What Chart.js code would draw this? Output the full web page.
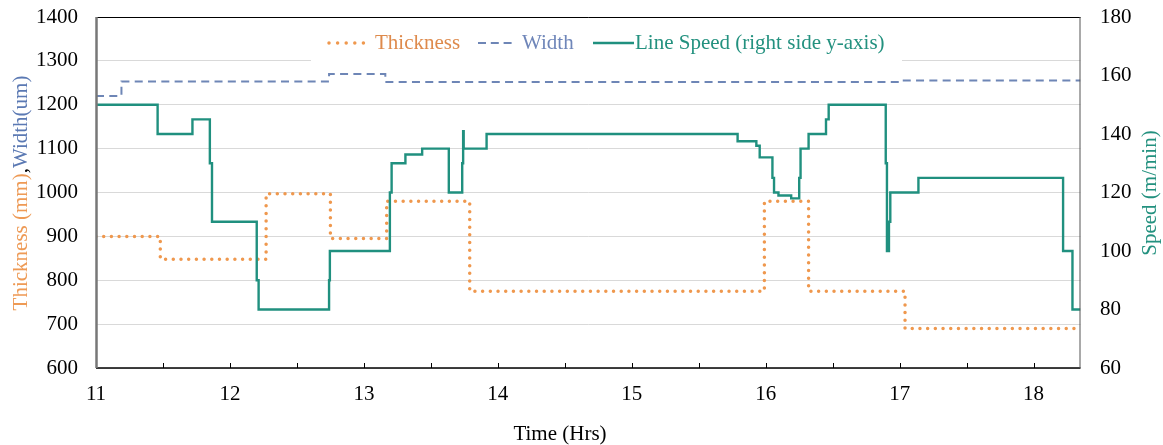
<!DOCTYPE html>
<html>
<head>
<meta charset="utf-8">
<script src="https://cdn.jsdelivr.net/npm/chart.js@4.4.1/dist/chart.umd.min.js"></script>
<style>
  html, body { margin: 0; padding: 0; background: #fff; }
  #wrap { width: 1163px; height: 445px; position: relative; }
</style>
</head>
<body>
<div id="wrap"><canvas id="chart"></canvas></div>
<script>
// Step series: each time is where the value starts, last point closes the line
const thicknessTimes = [11.0, 11.48, 12.27, 12.75, 13.17, 13.79, 15.99, 16.32, 17.04, 18.35];
const thicknessValues = [900, 848, 997, 895, 980, 775, 980, 775, 690, 690];

const widthTimes = [11.0, 11.19, 12.74, 13.16, 17.02, 18.35];
const widthValues = [1220, 1253, 1270, 1252, 1255, 1255];

const speedTimes = [11.0, 11.46, 11.72, 11.85, 11.866, 12.2, 12.214, 12.74, 12.746, 13.194, 13.207,
  13.31, 13.435, 13.634, 13.734, 13.741, 13.745, 13.916, 15.79, 15.93, 15.955, 16.05, 16.062,
  16.095, 16.19, 16.25, 16.26, 16.32, 16.45, 16.47, 16.896, 16.905, 16.92, 16.93, 17.14, 18.22,
  18.29, 18.35];
const speedValues = [150, 140, 145, 130, 110, 90, 80, 90, 100, 120, 130,
  133, 135, 120, 130, 141, 135, 140, 137.5, 136, 132, 125, 120,
  119, 118, 125, 135, 140, 145, 150, 130, 100, 110, 120, 125, 100,
  80, 80];

const leftTicks = [600, 700, 800, 900, 1000, 1100, 1200, 1300, 1400];
const rightTicks = [60, 80, 100, 120, 140, 160, 180];
const timeTicks = [11, 12, 13, 14, 15, 16, 17, 18];

const ORANGE = "#EF984E";
const BLUE = "#6E86B6";
const TEAL = "#20907F";
const FONT = '"Liberation Serif", "Times New Roman", serif';

const toPoints = (xs, ys) => xs.map((x, i) => ({ x, y: ys[i] }));

// no extra room for half labels at the ends of the axes
const noScalePadding = (scale) => {
  scale.paddingTop = 0;
  scale.paddingBottom = 0;
  scale.paddingLeft = 0;
  scale.paddingRight = 0;
};

// legend, frame, inner x ticks and axis titles
const decorations = {
  id: "decorations",
  beforeDatasetsDraw(chart) {
    const ctx = chart.ctx;
    ctx.save();
    ctx.fillStyle = "#fff";
    ctx.fillRect(311, 24, 591, 42);
    ctx.restore();
  },
  afterDraw(chart) {
    const ctx = chart.ctx;
    const { left, right, top, bottom } = chart.chartArea;
    const x = chart.scales.x;
    ctx.save();

    // frame
    ctx.strokeStyle = "#000";
    ctx.lineWidth = 1;
    ctx.beginPath();
    ctx.moveTo(left, top + 0.5);
    ctx.lineTo(right, top + 0.5);
    ctx.stroke();
    ctx.lineWidth = 1.5;
    ctx.beginPath();
    ctx.moveTo(left, bottom);
    ctx.lineTo(right, bottom);
    ctx.stroke();
    ctx.strokeStyle = "#555";
    ctx.lineWidth = 1;
    ctx.beginPath();
    ctx.moveTo(right - 0.5, top);
    ctx.lineTo(right - 0.5, bottom);
    ctx.stroke();
    ctx.strokeStyle = "#777";
    ctx.lineWidth = 2.5;
    ctx.beginPath();
    ctx.moveTo(left + 0.5, top);
    ctx.lineTo(left + 0.5, bottom);
    ctx.stroke();

    // small tick marks pointing up, every half hour
    ctx.strokeStyle = "#000";
    ctx.lineWidth = 1;
    for (let t = 11.5; t <= 18; t += 0.5) {
      const px = Math.round(x.getPixelForValue(t)) + 0.5;
      ctx.beginPath();
      ctx.moveTo(px, bottom);
      ctx.lineTo(px, bottom - 5);
      ctx.stroke();
    }

    // legend
    const ly = 43;
    ctx.font = "21px " + FONT;
    ctx.textBaseline = "middle";
    ctx.textAlign = "left";

    ctx.strokeStyle = ORANGE;
    ctx.lineWidth = 3.5;
    ctx.lineCap = "round";
    ctx.setLineDash([0, 8.6]);
    ctx.beginPath();
    ctx.moveTo(329, ly);
    ctx.lineTo(364, ly);
    ctx.stroke();
    ctx.fillStyle = "#DE8A4C";
    ctx.fillText("Thickness", 375, ly);

    ctx.strokeStyle = BLUE;
    ctx.lineWidth = 2;
    ctx.lineCap = "butt";
    ctx.setLineDash([8, 4.8]);
    ctx.beginPath();
    ctx.moveTo(478, ly);
    ctx.lineTo(512, ly);
    ctx.stroke();
    ctx.fillStyle = "#6F86B9";
    ctx.fillText("Width", 522, ly);

    ctx.strokeStyle = TEAL;
    ctx.lineWidth = 2.5;
    ctx.setLineDash([]);
    ctx.beginPath();
    ctx.moveTo(593, ly);
    ctx.lineTo(634, ly);
    ctx.stroke();
    ctx.fillStyle = "#23917F";
    ctx.fillText("Line Speed (right side y-axis)", 635, ly);

    // x axis title
    ctx.fillStyle = "#000";
    ctx.textAlign = "center";
    ctx.fillText("Time (Hrs)", 560, 434);

    // left axis title, two colours
    ctx.save();
    ctx.translate(21, 193);
    ctx.rotate(-Math.PI / 2);
    const partA = "Thickness (mm)";
    const partB = ",";
    const partC = "Width(um)";
    const wA = ctx.measureText(partA).width;
    const wB = ctx.measureText(partB).width;
    const wC = ctx.measureText(partC).width;
    let sx = -(wA + wB + wC) / 2;
    ctx.textAlign = "left";
    ctx.fillStyle = "#EE9A55";
    ctx.fillText(partA, sx, 0);
    sx += wA;
    ctx.fillStyle = "#000";
    ctx.fillText(partB, sx, 0);
    sx += wB;
    ctx.fillStyle = "#5B79B3";
    ctx.fillText(partC, sx, 0);
    ctx.restore();

    // right axis title
    ctx.save();
    ctx.translate(1150, 193);
    ctx.rotate(-Math.PI / 2);
    ctx.textAlign = "center";
    ctx.fillStyle = "#23917F";
    ctx.fillText("Speed (m/min)", 0, 0);
    ctx.restore();

    ctx.restore();
  },
};

new Chart(document.getElementById("chart"), {
  type: "line",
  data: {
    datasets: [
      {
        label: "Line Speed (right side y-axis)",
        data: toPoints(speedTimes, speedValues),
        yAxisID: "y1",
        stepped: true,
        borderColor: TEAL,
        borderWidth: 2.4,
        pointRadius: 0,
        order: 0,
      },
      {
        label: "Width",
        data: toPoints(widthTimes, widthValues),
        yAxisID: "y",
        stepped: true,
        borderColor: BLUE,
        borderWidth: 2,
        borderDash: [8, 5.3],
        pointRadius: 0,
        order: 1,
      },
      {
        label: "Thickness",
        data: toPoints(thicknessTimes, thicknessValues),
        yAxisID: "y",
        stepped: true,
        borderColor: ORANGE,
        borderWidth: 3.5,
        borderDash: [0, 7.7],
        borderCapStyle: "round",
        pointRadius: 0,
        order: 2,
      },
    ],
  },
  options: {
    responsive: true,
    maintainAspectRatio: false,
    animation: false,
    layout: { padding: { top: 17, left: 0, right: 0, bottom: 0 } },
    plugins: {
      legend: { display: false },
      tooltip: { enabled: false },
    },
    scales: {
      x: {
        type: "linear",
        min: 11,
        max: 18.35,
        afterFit: (scale) => {
          scale.height = 77;
          noScalePadding(scale);
        },
        afterBuildTicks: (scale) => {
          scale.ticks = timeTicks.map((v) => ({ value: v }));
        },
        ticks: {
          padding: 14,
          color: "#000",
          font: { family: FONT, size: 21 },
          maxRotation: 0,
          autoSkip: false,
          callback: (v) => String(v),
        },
        grid: { display: false, drawTicks: false },
        border: { display: false },
      },
      y: {
        position: "left",
        min: 600,
        max: 1400,
        afterFit: (scale) => {
          scale.width = 96;
          noScalePadding(scale);
        },
        afterBuildTicks: (scale) => {
          scale.ticks = leftTicks.map((v) => ({ value: v }));
        },
        ticks: {
          padding: 18,
          color: "#000",
          font: { family: FONT, size: 21 },
          callback: (v) => String(v),
        },
        grid: { color: "#d9d9d9", lineWidth: 1, drawTicks: false },
        border: { display: false },
      },
      y1: {
        position: "right",
        min: 60,
        max: 180,
        afterFit: (scale) => {
          scale.width = 82.5;
          noScalePadding(scale);
        },
        afterBuildTicks: (scale) => {
          scale.ticks = rightTicks.map((v) => ({ value: v }));
        },
        ticks: {
          padding: 19.5,
          color: "#000",
          font: { family: FONT, size: 21 },
          callback: (v) => String(v),
        },
        grid: { drawOnChartArea: false, drawTicks: false },
        border: { display: false },
      },
    },
  },
  plugins: [decorations],
});
</script>
</body>
</html>
